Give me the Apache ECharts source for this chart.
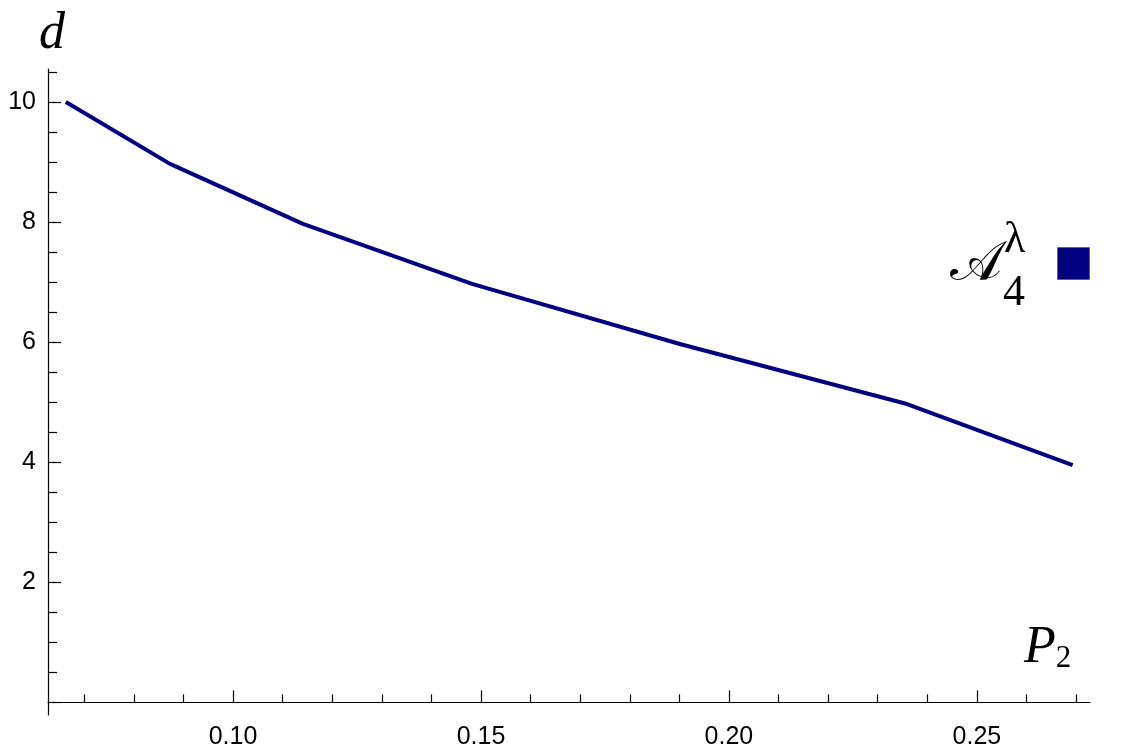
<!DOCTYPE html>
<html>
<head>
<meta charset="utf-8">
<title>d vs P2</title>
<script src="https://cdn.jsdelivr.net/npm/echarts@6/dist/echarts.min.js"></script>
<style>
  html, body { margin: 0; padding: 0; background: #fff; }
  #chart { width: 1130px; height: 755px; }
</style>
</head>
<body>
<div id="chart"></div>
<script>
// values
var p2Values = [0.0663, 0.0873, 0.1141, 0.1482, 0.1901, 0.2359, 0.2693];
var dValues = [10, 8.97, 7.97, 6.97, 5.97, 4.97, 3.95];

var xMajorTicks = [0.10, 0.15, 0.20, 0.25];
var xMinorTicks = [0.07, 0.08, 0.09, 0.11, 0.12, 0.13, 0.14, 0.16, 0.17, 0.18, 0.19,
                   0.21, 0.22, 0.23, 0.24, 0.26, 0.27];
var yMajorTicks = [0, 2, 4, 6, 8, 10];
var yLabels = [2, 4, 6, 8, 10];
var yMinorTicks = [0.5, 1, 1.5, 2.5, 3, 3.5, 4.5, 5, 5.5, 6.5, 7, 7.5, 8.5, 9, 9.5, 10.5];

var seriesName = 'A4';
var lineColor = '#000080';

var xRange = [0.0627, 0.2728];
var yRange = [-0.21, 10.55];

var tickFont = 'Liberation Sans';
var mathFont = 'Liberation Serif';

var lineData = p2Values.map(function (x, i) { return [x, dValues[i]]; });

var myChart = echarts.init(document.getElementById('chart'));

var option = {
  animation: false,
  backgroundColor: '#fff',
  grid: { left: 48, right: 40, top: 69, bottom: 40, containLabel: false },
  legend: {
    data: [{ name: seriesName, itemStyle: { color: lineColor, borderColor: '#666', borderWidth: 1 } }],
    left: 1057,
    top: 247,
    padding: 0,
    icon: 'rect',
    itemWidth: 32,
    itemHeight: 32,
    itemGap: 0,
    formatter: function () { return ''; }
  },
  xAxis: [
    {
      type: 'value',
      min: xRange[0],
      max: xRange[1],
      position: 'bottom',
      name: '{p|P}{s|2}',
      nameLocation: 'end',
      nameGap: -66,
      nameTextStyle: {
        verticalAlign: 'bottom',
        padding: [0, 0, 28, 0],
        rich: {
          p: { fontFamily: mathFont, fontStyle: 'italic', fontSize: 52, color: '#000' },
          s: { fontFamily: mathFont, fontSize: 31, color: '#000', verticalAlign: 'bottom' }
        }
      },
      splitLine: { show: false },
      axisLine: { onZero: true, lineStyle: { color: '#000', width: 1.2 } },
      axisTick: { inside: true, length: 12, lineStyle: { color: '#000', width: 1.2 }, customValues: xMajorTicks },
      axisLabel: {
        customValues: xMajorTicks,
        margin: 10,
        fontFamily: tickFont,
        fontSize: 25,
        color: '#000',
        formatter: function (v) { return v.toFixed(2); }
      }
    },
    {
      type: 'value',
      min: xRange[0],
      max: xRange[1],
      position: 'bottom',
      splitLine: { show: false },
      axisLine: { show: false, onZero: true },
      axisTick: { inside: true, length: 8, lineStyle: { color: '#000', width: 1.2 }, customValues: xMinorTicks },
      axisLabel: { show: false }
    }
  ],
  yAxis: [
    {
      type: 'value',
      min: yRange[0],
      max: yRange[1],
      position: 'left',
      name: 'd',
      nameLocation: 'end',
      nameGap: 9,
      nameTextStyle: { fontFamily: mathFont, fontStyle: 'italic', fontSize: 52, color: '#000', padding: [0, 0, 0, 8] },
      splitLine: { show: false },
      axisLine: { onZero: false, lineStyle: { color: '#000', width: 1.2 } },
      axisTick: { inside: true, length: 13, lineStyle: { color: '#000', width: 1.2 }, customValues: yMajorTicks },
      axisLabel: {
        customValues: yLabels,
        margin: 12,
        fontFamily: tickFont,
        fontSize: 25,
        color: '#000'
      }
    },
    {
      type: 'value',
      min: yRange[0],
      max: yRange[1],
      position: 'left',
      splitLine: { show: false },
      axisLine: { show: false, onZero: false },
      axisTick: { inside: true, length: 9, lineStyle: { color: '#000', width: 1.2 }, customValues: yMinorTicks },
      axisLabel: { show: false }
    }
  ],
  graphic: [
    { type: 'text', left: 950, top: 238, style: { text: '\uD835\uDC9C', font: '55px "DejaVu Serif", serif', fill: '#000' } },
    { type: 'text', left: 1004, top: 218, style: { text: '\u03BB', font: '44px ' + mathFont, fill: '#000' } },
    { type: 'text', left: 1003, top: 271, style: { text: '4', font: '44px ' + mathFont, fill: '#000' } }
  ],
  series: [
    {
      name: seriesName,
      type: 'line',
      xAxisIndex: 0,
      yAxisIndex: 0,
      data: lineData,
      showSymbol: false,
      symbol: 'none',
      color: lineColor,
      lineStyle: { color: lineColor, width: 4 }
    }
  ]
};

myChart.setOption(option);
</script>
</body>
</html>
